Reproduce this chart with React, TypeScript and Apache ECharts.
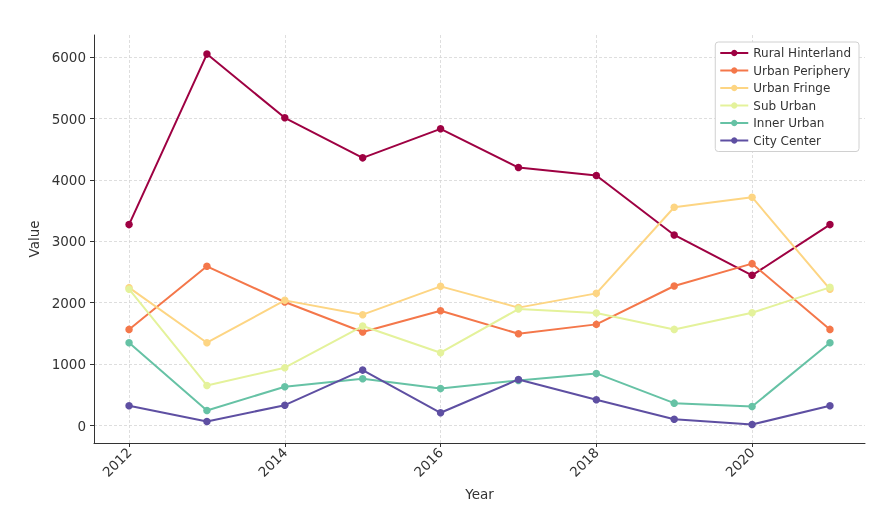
import React, { useEffect, useRef } from "react";
import * as echarts from "echarts";

const years = [2012, 2013, 2014, 2015, 2016, 2017, 2018, 2019, 2020, 2021];
const seriesNames = ["Rural Hinterland", "Urban Periphery", "Urban Fringe", "Sub Urban", "Inner Urban", "City Center"];
const ruralHinterland = [3272, 6049, 5011, 4359, 4832, 4201, 4071, 3103, 2446, 3272];
const urbanPeriphery = [1565, 2593, 2011, 1522, 1870, 1495, 1647, 2272, 2636, 1565];
const urbanFringe = [2245, 1348, 2038, 1805, 2266, 1920, 2152, 3555, 3718, 2220];
const subUrban = [2220, 652, 941, 1620, 1185, 1897, 1832, 1565, 1837, 2250];
const innerUrban = [1348, 245, 631, 761, 603, 734, 848, 364, 310, 1348];
const cityCenter = [321, 65, 331, 902, 207, 750, 419, 103, 16, 321];
const xTicks = [2012, 2014, 2016, 2018, 2020];
const yTicks = [0, 1000, 2000, 3000, 4000, 5000, 6000];

const allValues = [ruralHinterland, urbanPeriphery, urbanFringe, subUrban, innerUrban, cityCenter];
const colors = ["#9e0142", "#f4774a", "#fdd583", "#e4f29b", "#66c2a5", "#5e4fa2"];

export default function App() {
  const ref = useRef<HTMLDivElement>(null);
  useEffect(() => {
    if (!ref.current) return;
    const chart = echarts.init(ref.current, null, { renderer: "svg" });
    const font = "DejaVu Sans";
    const gridLine = { color: "#d6d6d6", width: 0.8, type: [3, 2] as any };
    const series: any[] = [
      {
        name: "__grid",
        type: "line",
        data: [],
        z: 0,
        silent: true,
        markLine: {
          z: 0,
          silent: true,
          symbol: "none",
          label: { show: false },
          lineStyle: gridLine,
          data: [
            ...xTicks.map((v) => ({ xAxis: v })),
            ...yTicks.map((v) => ({ yAxis: v })),
          ],
        },
      },
    ];
    seriesNames.forEach((name, i) => {
      series.push({
        name,
        type: "line",
        data: years.map((y, j) => [y, allValues[i][j]]),
        symbol: "circle",
        symbolSize: 7.5,
        z: 2 + i,
        lineStyle: { width: 2, color: colors[i] },
        itemStyle: { color: colors[i] },
      });
    });
    chart.setOption({
      animation: false,
      textStyle: { fontFamily: font },
      grid: { left: 94, right: 29, top: 35, bottom: 83, containLabel: false },
      legend: {
        data: seriesNames,
        orient: "vertical",
        right: 35,
        top: 42,
        backgroundColor: "#fff",
        borderColor: "#d0d0d0",
        borderWidth: 1,
        borderRadius: 3,
        padding: [5, 8, 5, 4],
        itemWidth: 28,
        itemHeight: 8,
        itemGap: 5.5,
        textStyle: { fontFamily: font, fontSize: 12, color: "#333" },
      },
      xAxis: {
        type: "value",
        min: 2011.55,
        max: 2021.45,
        name: "Year",
        nameLocation: "middle",
        nameGap: 44,
        nameTextStyle: { fontFamily: font, fontSize: 13.5, color: "#333" },
        axisLine: { show: true, onZero: false, lineStyle: { color: "#333", width: 1 } },
        axisTick: { show: true, customValues: xTicks, length: 4, lineStyle: { color: "#333" } },
        axisLabel: {
          customValues: xTicks,
          rotate: 45,
          fontFamily: font,
          fontSize: 13.5,
          color: "#333",
          margin: 7,
          formatter: (v: number) => String(v),
        },
        splitLine: { show: false },
      },
      yAxis: {
        type: "value",
        min: -285,
        max: 6360,
        name: "Value",
        nameLocation: "middle",
        nameGap: 48,
        nameRotate: 90,
        nameTextStyle: { fontFamily: font, fontSize: 13.5, color: "#333" },
        axisLine: { show: true, onZero: false, lineStyle: { color: "#333", width: 1 } },
        axisTick: { show: true, customValues: yTicks, length: 4, lineStyle: { color: "#333" } },
        axisLabel: {
          customValues: yTicks,
          fontFamily: font,
          fontSize: 13.5,
          color: "#333",
          margin: 8,
          formatter: (v: number) => String(v),
        },
        splitLine: { show: false },
      },
      series,
    });
    return () => chart.dispose();
  }, []);
  return <div ref={ref} style={{ position: "fixed", left: 0, top: 0, width: 894, height: 526 }} />;
}
